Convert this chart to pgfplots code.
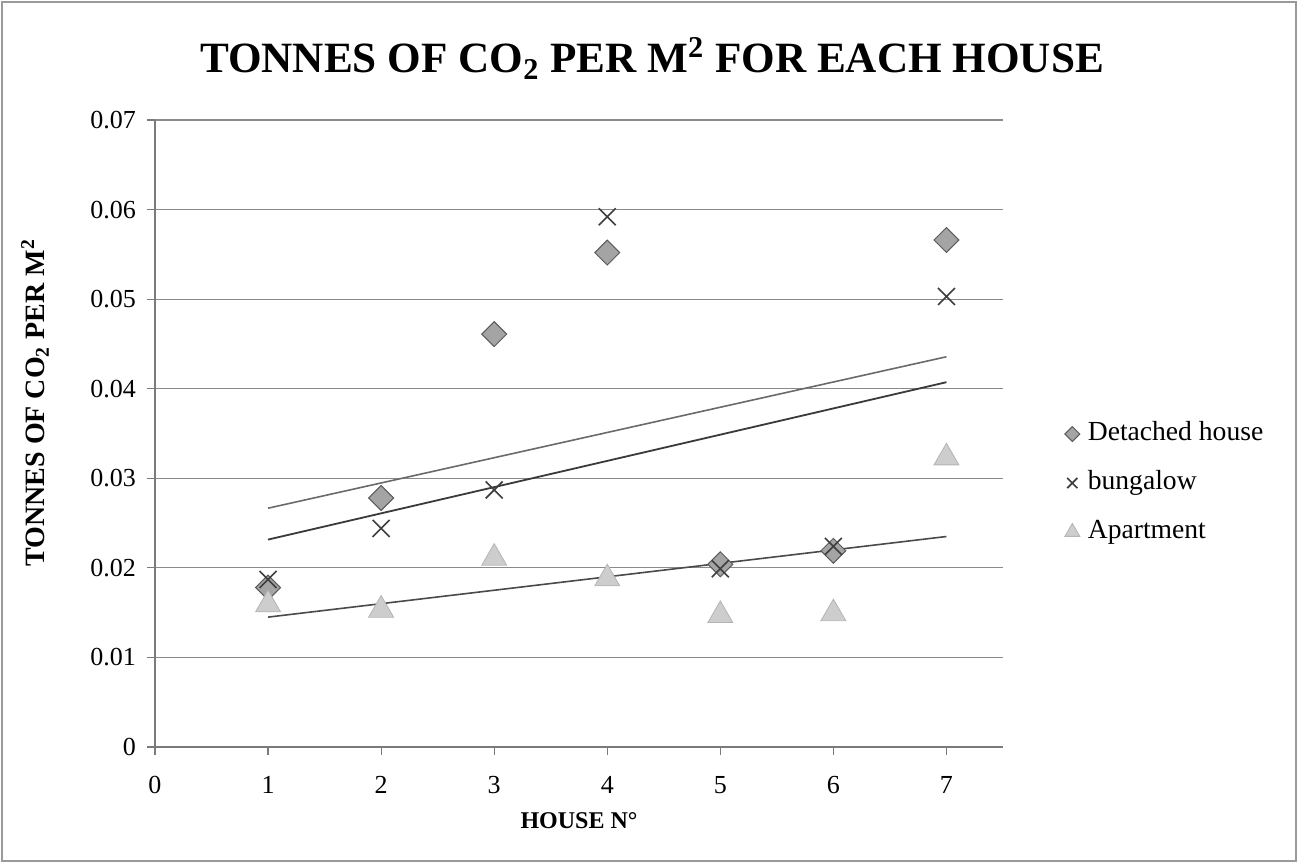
\documentclass[border=0pt]{standalone}
\usepackage{fontspec}
\setmainfont{Liberation Serif}
\usepackage{pgfplots}
\pgfplotsset{compat=1.18}
\usepackage{pgfplotstable}
\definecolor{gridc}{HTML}{8A8A8A}
\definecolor{axisc}{HTML}{7A7A7A}
\definecolor{framec}{HTML}{9A9A9A}
\definecolor{detfill}{HTML}{A4A4A4}
\definecolor{detedge}{HTML}{5A5A5A}
\definecolor{bunc}{HTML}{3E3E3E}
\definecolor{aptfill}{HTML}{CDCDCD}
\definecolor{aptedge}{HTML}{B4B4B4}
\definecolor{trdet}{HTML}{6A6A6A}
\definecolor{trbun}{HTML}{3A3A3A}
\definecolor{trapt}{HTML}{4A4A4A}
\pgfplotstableread{
x det bun apt
1 0.0178 0.0187 0.0159
2 0.0278 0.0244 0.0153
3 0.0461 0.0287 0.0211
4 0.0552 0.0592 0.0188
5 0.0204 0.0199 0.0147
6 0.0219 0.0224 0.0149
7 0.0566 0.0503 0.0323
}\datatable
\begin{document}
\begin{tikzpicture}
\useasboundingbox (0,0) rectangle (649pt,431.5pt);
\draw[framec, line width=0.6pt] (1pt,1pt) rectangle (648pt,430.5pt);
\node[anchor=base, font=\fontsize{21.6}{26}\selectfont\bfseries] at (326pt,395pt)
  {TONNES OF CO\textsubscript{2} PER M\textsuperscript{2} FOR EACH HOUSE};
\begin{axis}[
  at={(77.5pt,58pt)}, anchor=south west,
  scale only axis, width=424pt, height=313.5pt,
  xmin=0, xmax=7.5, ymin=0, ymax=0.07,
  xtick={0,1,2,3,4,5,6,7},
  ytick={0,0.01,0.02,0.03,0.04,0.05,0.06,0.07},
  scaled y ticks=false,
  yticklabel style={/pgf/number format/fixed, /pgf/number format/precision=2, xshift=-2pt},
  xticklabel style={yshift=-7pt},
  /pgf/number format/assume math mode=true,
  tick label style={font=\fontsize{13}{15}\selectfont},
  axis lines=left,
  axis line style={axisc, line width=0.6pt, -},
  tick style={axisc, line width=0.6pt},
  tick align=outside,
  major tick length=4pt,
  ymajorgrids,
  grid style={gridc, line width=0.6pt},
  xlabel={HOUSE N°},
  xlabel style={font=\fontsize{12}{14}\selectfont\bfseries, at={(axis description cs:0.5,-0.118)}, anchor=center},
  ylabel={TONNES OF CO\textsubscript{2} PER M\textsuperscript{2}},
  ylabel style={font=\fontsize{14}{16}\selectfont\bfseries, at={(axis description cs:-0.1415,0.549)}, anchor=center, rotate=0},
  legend style={draw=none, fill=none, at={(axis description cs:1.059,0.421)}, anchor=west,
    font=\fontsize{13.8}{16}\selectfont, row sep=10pt,
    nodes={inner sep=1pt, text height=9.5pt, text depth=3pt}},
  legend cell align=left,
  legend image code/.code={\path (0cm,0cm) (0.45cm,0cm); \draw[#1] plot coordinates {(0.22cm,0cm)};},
  legend image post style={every mark/.append style={scale=0.6}},
  clip=false,
]
\addplot[only marks, mark=square*, mark size=4.4pt,
  mark options={rotate=45, fill=detfill, draw=detedge, line width=0.5pt}]
  table[x=x, y=det] {\datatable};
\addlegendentry{Detached house}
\addplot[only marks, mark=x, mark size=6pt,
  mark options={draw=bunc, line width=0.8pt}]
  table[x=x, y=bun] {\datatable};
\addlegendentry{bungalow}
\addplot[only marks, mark=triangle*, mark size=7.2pt,
  mark options={fill=aptfill, draw=aptedge, line width=0.4pt}]
  table[x=x, y=apt] {\datatable};
\addlegendentry{Apartment}
\addplot[trdet, line width=0.8pt, no marks, forget plot]
  table[x=x, y={create col/linear regression={y=det}}] {\datatable};
\addplot[trbun, line width=0.9pt, no marks, forget plot]
  table[x=x, y={create col/linear regression={y=bun}}] {\datatable};
\addplot[trapt, line width=0.8pt, no marks, forget plot]
  table[x=x, y={create col/linear regression={y=apt}}] {\datatable};
\end{axis}
\end{tikzpicture}
\end{document}
